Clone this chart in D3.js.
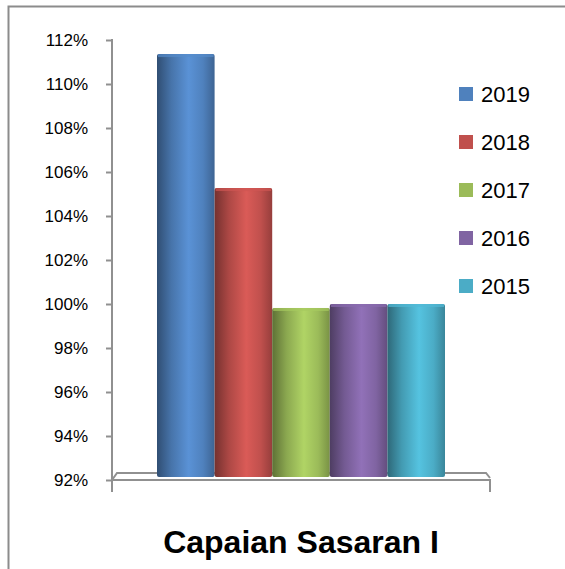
<!DOCTYPE html>
<html>
<head>
<meta charset="utf-8">
<script src="https://cdn.jsdelivr.net/npm/d3@7"></script>
<style>
  body { margin: 0; background: #fff; }
  text { font-family: "Liberation Sans", Arial, sans-serif; }
</style>
</head>
<body>
<div id="chart"></div>
<script>
const years = ["2019", "2018", "2017", "2016", "2015"];
const values = [1.1136, 1.0527, 0.9982, 1.0000, 1.0000];
const colors = ["#4F81BD", "#C0504D", "#9BBB59", "#8064A2", "#4BACC6"];
const tickValues = [0.92, 0.94, 0.96, 0.98, 1.00, 1.02, 1.04, 1.06, 1.08, 1.10, 1.12];
const title = "Capaian Sasaran I";

let width = 565, height = 569;
let svg = d3.select("#chart")
  .append("svg")
  .attr("width", width)
  .attr("height", height);

// outer frame (only top and left visible in picture)
svg.append("path")
  .attr("d", "M8.5,569 L8.5,6.5 L565,6.5")
  .attr("fill", "none")
  .attr("stroke", "#8c8c8c")
  .attr("stroke-width", 2);

let y = d3.scaleLinear().domain([0.92, 1.12]).range([480, 40]);
let x = d3.scaleBand().domain(years).range([157, 445]).padding(0);

// gradients for cylinder look
let defs = svg.append("defs");
colors.forEach((c, i) => {
  let base = d3.color(c);
  let g = defs.append("linearGradient")
    .attr("id", "grad" + i)
    .attr("x1", "0%").attr("x2", "100%").attr("y1", "0%").attr("y2", "0%");
  g.append("stop").attr("offset", "0%").attr("stop-color", base.darker(1.4));
  g.append("stop").attr("offset", "25%").attr("stop-color", base.darker(0.3));
  g.append("stop").attr("offset", "55%").attr("stop-color", base.brighter(0.35));
  g.append("stop").attr("offset", "80%").attr("stop-color", base);
  g.append("stop").attr("offset", "100%").attr("stop-color", base.darker(0.7));
});

// floor (3D base)
let floor = svg.append("g")
  .attr("fill", "none")
  .attr("stroke", "#909090")
  .attr("stroke-width", 2);
floor.append("path")
  .attr("d", "M112,480 L490,480 L490,492 M112,480 L117,473 L486,473 L490,478");

// y axis
let axis = svg.append("g")
  .attr("transform", "translate(112,0)")
  .call(d3.axisLeft(y).tickValues(tickValues).tickSize(6).tickFormat(d3.format(".0%")));
axis.select(".domain").remove();
axis.selectAll(".tick line").attr("stroke", "#909090").attr("stroke-width", 2);
axis.selectAll(".tick text")
  .attr("x", -24)
  .attr("fill", "#000")
  .style("font-size", "17px")
  .style("font-family", "'Liberation Sans', Arial, sans-serif");
svg.append("line")
  .attr("x1", 112).attr("x2", 112)
  .attr("y1", y(1.12) - 1).attr("y2", 492)
  .attr("stroke", "#909090")
  .attr("stroke-width", 2);

// bars
let bars = svg.append("g");
years.forEach((yr, i) => {
  bars.append("rect")
    .attr("x", x(yr))
    .attr("y", y(values[i]))
    .attr("width", x.bandwidth())
    .attr("height", y(0.92) - 3 - y(values[i]))
    .attr("rx", 2)
    .style("fill", "url(#grad" + i + ")");
  bars.append("rect")
    .attr("x", x(yr) + 1)
    .attr("y", y(values[i]))
    .attr("width", x.bandwidth() - 2)
    .attr("height", 3)
    .style("fill", d3.color(colors[i]).brighter(0.2))
    .style("opacity", 0.7);
});

// legend
let legendblock = 14;
let legendpad = 48;
let legend = svg.append("g").attr("id", "legend");
years.forEach((yr, index) => {
  legend.append("rect")
    .attr("x", 459)
    .attr("y", 87 + legendpad * index)
    .attr("width", legendblock)
    .attr("height", legendblock)
    .style("fill", colors[index]);
  legend.append("text")
    .text(yr)
    .attr("x", 481)
    .attr("y", 102 + legendpad * index)
    .style("font-size", "22px")
    .style("fill", "#000");
});

// title
svg.append("text")
  .text(title)
  .attr("x", 301)
  .attr("y", 553)
  .attr("text-anchor", "middle")
  .style("font-size", "32px")
  .style("font-weight", "bold")
  .style("fill", "#000");
</script>
</body>
</html>
